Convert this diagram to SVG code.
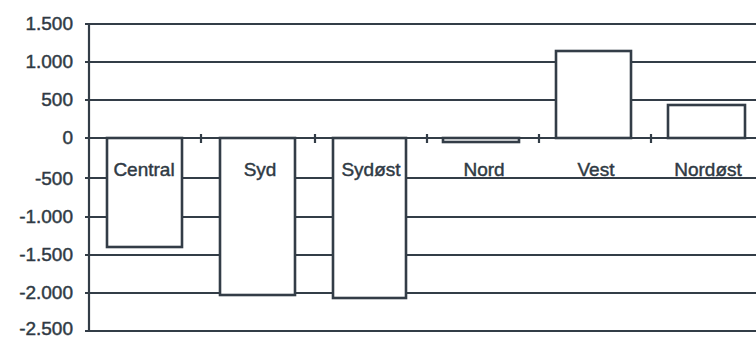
<svg xmlns="http://www.w3.org/2000/svg" width="756" height="338" viewBox="0 0 756 338">
<style>
.g{stroke:#333d47;stroke-width:2.2;fill:none}
.bar{stroke:#333d47;stroke-width:2.6;fill:#fff}
.t{font-family:"Liberation Sans",Arial,sans-serif;font-size:19px;fill:#2f3a44;stroke:#2f3a44;stroke-width:0.45}
.y{text-anchor:end}
.c{text-anchor:middle}
</style>
<rect width="756" height="338" fill="#fff"/>
<g id="grid">
<line class="g" x1="85" y1="24" x2="756" y2="24"/>
<line class="g" x1="85" y1="62" x2="756" y2="62"/>
<line class="g" x1="85" y1="100" x2="756" y2="100"/>
<line class="g" x1="85" y1="138" x2="756" y2="138"/>
<line class="g" x1="85" y1="178" x2="756" y2="178"/>
<line class="g" x1="85" y1="217" x2="756" y2="217"/>
<line class="g" x1="85" y1="255" x2="756" y2="255"/>
<line class="g" x1="85" y1="293" x2="756" y2="293"/>
<line class="g" x1="85" y1="331" x2="756" y2="331"/>
<line class="g" x1="89" y1="24" x2="89" y2="331"/>
<line class="g" x1="201" y1="134" x2="201" y2="143"/>
<line class="g" x1="315" y1="134" x2="315" y2="143"/>
<line class="g" x1="427" y1="134" x2="427" y2="143"/>
<line class="g" x1="539" y1="134" x2="539" y2="143"/>
<line class="g" x1="651" y1="134" x2="651" y2="143"/>
</g>
<g id="yaxis-labels">
<text class="t y" x="73" y="30">1.500</text>
<text class="t y" x="73" y="68">1.000</text>
<text class="t y" x="73" y="106">500</text>
<text class="t y" x="73" y="144">0</text>
<text class="t y" x="73" y="185">-500</text>
<text class="t y" x="73" y="223">-1.000</text>
<text class="t y" x="73" y="261">-1.500</text>
<text class="t y" x="73" y="299">-2.000</text>
<text class="t y" x="73" y="335">-2.500</text>
</g>
<g id="central"><rect class="bar" x="107" y="138" width="75" height="109"/><text class="t c" x="144" y="176">Central</text></g>
<g id="syd"><rect class="bar" x="220" y="138" width="75" height="157"/><text class="t c" x="260" y="176">Syd</text></g>
<g id="sydost"><rect class="bar" x="333" y="138" width="73" height="160"/><text class="t c" x="371" y="176">Sydøst</text></g>
<g id="nord"><rect class="bar" x="443" y="138" width="76" height="4"/><text class="t c" x="484" y="176">Nord</text></g>
<g id="vest"><rect class="bar" x="556" y="51" width="75" height="87"/><text class="t c" x="596" y="176">Vest</text></g>
<g id="nordost"><rect class="bar" x="668" y="105" width="77" height="33"/><text class="t c" x="708" y="176">Nordøst</text></g>
</svg>
